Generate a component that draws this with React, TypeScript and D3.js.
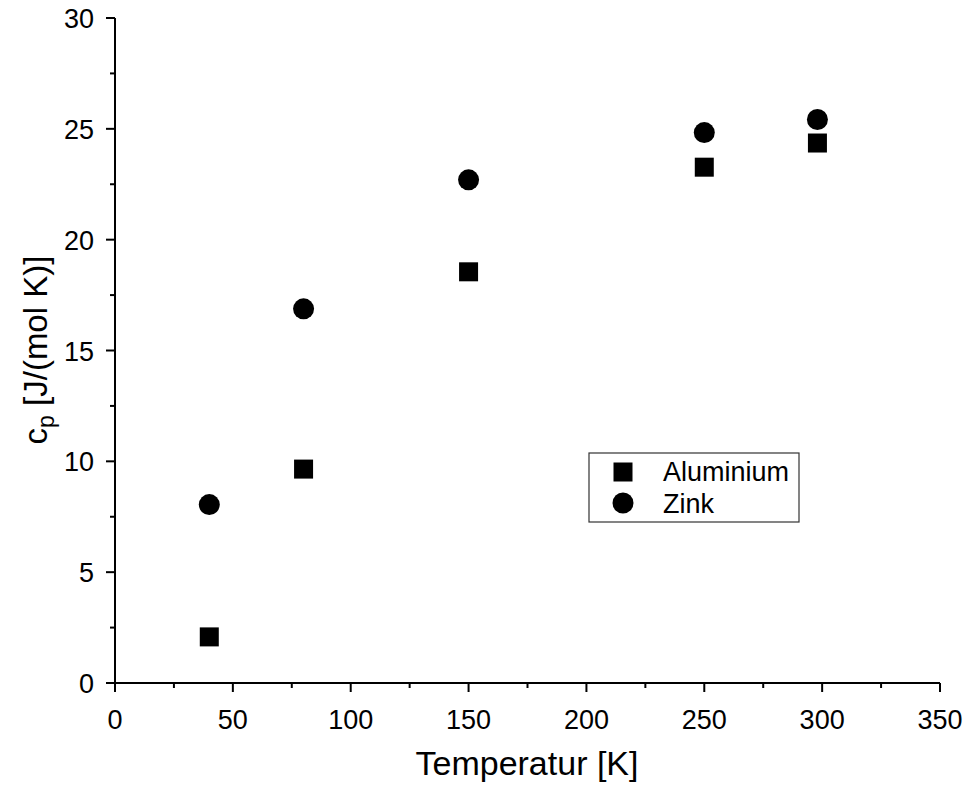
import React from "react";
import * as d3 from "d3";

const temps = [40, 80, 150, 250, 298];
const aluminium = [2.08, 9.65, 18.55, 23.27, 24.36];
const zink = [8.05, 16.88, 22.7, 24.83, 25.42];
const xTicks = [0, 50, 100, 150, 200, 250, 300, 350];
const yTicks = [0, 5, 10, 15, 20, 25, 30];
const seriesNames = ["Aluminium", "Zink"];

const W = 969, H = 785;
const FONT = "'Liberation Sans', Arial, sans-serif";

export default function App() {
  const x = d3.scaleLinear().domain([0, 350]).range([115, 940]);
  const y = d3.scaleLinear().domain([0, 30]).range([683, 18]);
  const xMinor = d3.range(25, 350, 50);
  const yMinor = d3.range(2.5, 30, 5);
  const sq = 19;
  const r = 10.5;
  return (
    <svg width={W} height={H} style={{ position: "absolute", left: 0, top: 0, background: "#fff" }} fontFamily={FONT}>
      <rect x={0} y={0} width={W} height={H} fill="#fff" />
      {/* axes */}
      <line x1={x(0)} x2={x(350)} y1={y(0)} y2={y(0)} stroke="#000" strokeWidth={2} />
      <line x1={x(0)} x2={x(0)} y1={y(0)} y2={y(30)} stroke="#000" strokeWidth={2} />
      {xTicks.map((t) => (
        <g key={"xt" + t}>
          <line x1={x(t)} x2={x(t)} y1={y(0)} y2={y(0) + 9} stroke="#000" strokeWidth={2} />
          <text x={x(t)} y={729} fontSize={27} textAnchor="middle">{t}</text>
        </g>
      ))}
      {xMinor.map((t) => (
        <line key={"xm" + t} x1={x(t)} x2={x(t)} y1={y(0)} y2={y(0) + 5} stroke="#000" strokeWidth={2} />
      ))}
      {yTicks.map((t) => (
        <g key={"yt" + t}>
          <line x1={x(0) - 9} x2={x(0)} y1={y(t)} y2={y(t)} stroke="#000" strokeWidth={2} />
          <text x={94} y={y(t) + 10} fontSize={27} textAnchor="end">{t}</text>
        </g>
      ))}
      {yMinor.map((t) => (
        <line key={"ym" + t} x1={x(0) - 5} x2={x(0)} y1={y(t)} y2={y(t)} stroke="#000" strokeWidth={2} />
      ))}
      {/* titles */}
      <text x={527} y={775} fontSize={34} textAnchor="middle">Temperatur [K]</text>
      <text transform="translate(47,350) rotate(-90)" fontSize={33} textAnchor="middle">
        c<tspan fontSize={23} dy={7}>p</tspan><tspan dy={-7}> [J/(mol K)]</tspan>
      </text>
      {/* data */}
      {temps.map((t, i) => (
        <rect key={"a" + i} x={x(t) - sq / 2} y={y(aluminium[i]) - sq / 2} width={sq} height={sq} fill="#000" />
      ))}
      {temps.map((t, i) => (
        <circle key={"z" + i} cx={x(t)} cy={y(zink[i])} r={r} fill="#000" />
      ))}
      {/* legend */}
      <rect x={589} y={453} width={210} height={69} fill="#fff" stroke="#333" strokeWidth={1.2} />
      <rect x={623 - sq / 2} y={472 - sq / 2} width={sq} height={sq} fill="#000" />
      <circle cx={623} cy={503} r={r} fill="#000" />
      <text x={663} y={481} fontSize={27}>{seriesNames[0]}</text>
      <text x={663} y={513} fontSize={27}>{seriesNames[1]}</text>
    </svg>
  );
}
